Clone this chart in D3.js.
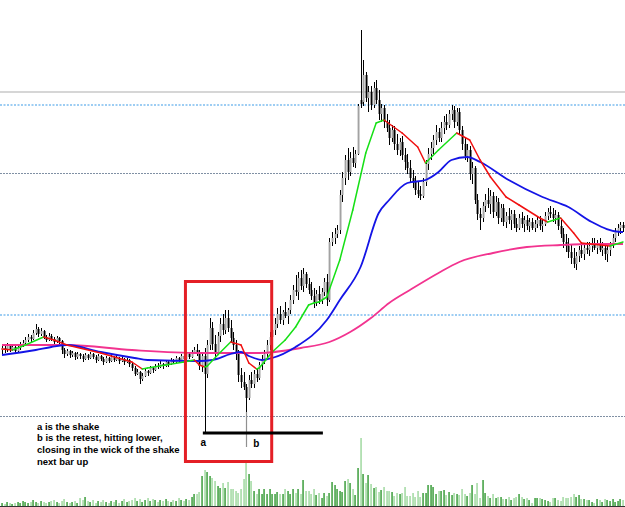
<!DOCTYPE html>
<html>
<head>
<meta charset="utf-8">
<script src="https://cdn.jsdelivr.net/npm/d3@7"></script>
<style>
  body { margin: 0; background: #fff; }
  svg { display: block; }
</style>
</head>
<body>
<div id="chart"></div>
<script>
// bars, price in points
let open = [150,152,150,154,151,153,149,152,155,157,160,163,161,167,171,166,169,163,160,164,
  161,158,162,159,150,146,149,145,147,143,146,144,141,145,142,146,143,140,144,141,
  138,142,139,143,140,142,139,141,138,140,136,132,126,128,121,124,129,127,132,130,
  134,133,136,134,138,136,140,138,142,140,144,141,146,143,148,150,146,134,144,126,
  155,172,156,148,164,176,170,182,172,162,155,146,125,118,113,102,120,116,126,122,
  135,140,146,155,163,170,176,186,180,188,184,190,200,210,208,222,214,226,216,210,
  204,198,206,200,208,218,200,258,262,266,270,305,322,340,328,342,337,346,400,398,
  425,402,408,395,412,400,386,392,378,372,362,370,356,350,358,345,338,332,322,318,
  310,306,304,318,336,346,352,360,368,362,372,378,375,386,390,378,388,370,356,344,
  350,326,332,300,286,282,294,300,296,304,288,298,282,292,278,284,280,286,276,272,
  282,276,280,274,278,272,276,280,274,276,284,288,286,282,285,274,266,258,254,248,
  242,236,244,250,246,252,250,254,256,252,256,250,252,246,250,256,262,268,272,275];
let high = [156,155,157,156,156,155,155,158,160,163,166,165,170,176,173,172,170,165,167,166,
  163,164,163,160,152,151,150,149,148,148,147,146,147,146,148,147,145,146,145,143,
  144,143,145,144,145,143,143,142,142,141,137,134,131,129,127,131,130,134,133,136,
  137,139,137,140,139,142,141,144,143,146,145,148,147,150,153,156,150,148,152,160,
  182,178,165,168,182,186,190,190,180,168,160,150,132,128,116,125,128,130,132,138,
  145,150,160,168,175,182,192,194,190,198,192,205,215,225,228,230,232,228,222,218,
  212,210,214,212,222,226,262,268,272,275,310,328,345,352,348,353,350,396,470,440,
  428,414,414,418,420,410,396,395,386,380,375,374,366,362,364,352,346,340,330,324,
  318,314,322,340,352,358,365,375,372,378,384,386,390,395,394,392,392,374,362,356,
  354,338,334,306,292,298,306,312,310,308,304,302,296,296,288,292,290,290,282,286,
  288,284,285,282,282,280,284,284,280,288,292,294,292,290,288,280,272,266,262,256,
  252,248,254,258,256,258,258,262,262,260,262,258,256,254,258,266,272,276,278,278];
let low = [146,147,148,148,149,146,147,150,153,154,158,158,160,165,163,164,161,158,159,159,
  156,157,156,146,142,144,142,143,140,141,141,138,140,140,141,141,137,139,139,135,
  137,137,138,138,139,136,138,135,137,133,129,124,125,116,119,123,124,126,127,129,
  131,132,131,133,133,135,136,137,138,139,139,140,141,142,146,144,130,128,105,122,
  150,150,140,145,158,165,166,168,158,150,140,118,112,110,88,100,112,112,118,120,
  130,136,142,150,158,165,172,176,175,182,176,186,196,204,200,210,208,212,206,200,
  192,194,196,196,204,194,198,254,256,262,266,298,315,320,324,333,332,345,392,394,
  398,388,390,392,396,380,378,372,368,355,358,350,345,344,340,330,326,318,312,305,
  302,300,302,314,330,340,346,355,358,358,366,370,372,380,372,374,365,350,340,338,
  320,316,296,280,270,278,288,292,286,282,284,276,278,274,272,276,270,272,268,270,
  272,268,270,268,270,268,272,270,268,274,280,282,278,276,270,262,252,248,242,236,
  232,230,238,242,240,246,244,248,250,246,248,244,240,238,244,252,258,264,266,268];
let close = [152,150,154,151,153,149,152,155,157,160,163,161,167,171,166,169,163,160,164,161,
  158,162,159,150,146,149,145,147,143,146,144,141,145,142,146,143,140,144,141,138,
  142,139,143,140,142,139,141,138,140,136,132,126,128,121,124,129,127,132,130,134,
  133,136,134,138,136,140,138,142,140,144,141,146,143,148,150,146,134,144,126,155,
  172,156,148,164,176,170,182,172,162,155,146,125,118,113,102,120,116,126,122,135,
  140,146,155,163,170,176,186,180,188,184,190,200,210,208,222,214,226,216,210,204,
  198,206,200,208,218,200,258,262,266,270,305,322,340,328,342,337,346,394,396,425,
  402,408,395,412,400,386,392,378,372,362,370,356,350,358,345,338,332,322,318,310,
  306,304,318,336,346,352,360,368,362,372,378,375,386,390,378,388,370,356,344,350,
  326,332,300,286,282,294,300,296,304,288,298,282,292,278,284,280,286,276,272,282,
  276,280,274,278,272,276,280,274,276,284,288,286,282,285,274,266,258,254,248,242,
  236,244,250,246,252,250,254,256,252,256,250,252,246,250,256,262,268,272,275,272];
let volume = [3,2,4,3,2,3,4,3,5,4, 3,4,6,4,3,5,4,3,4,5, 6,4,3,5,7,4,3,4,5,3,
  8,6,9,5,4,6,3,5,4,6, 4,3,5,4,6,3,5,7,4,5, 6,8,5,7,4,6,8,5,7,6,
  4,6,5,7,5,4,6,5,8,6, 5,7,6,9,12,12,14,30,36,34, 30,28,25,20,18,23,18,24,17,17,
  15,13,17,27,45,32,25,15,12,17, 12,17,12,17,12,12,14,12,12,17, 15,12,17,13,17,12,26,15,15,12,
  17,11,13,8,13,10,13,24,21,17, 15,14,25,27,23,17,11,38,68,32, 23,31,22,18,19,14,16,19,15,15,
  14,10,13,12,13,19,10,10,13,9, 15,9,13,13,21,21,19,12,15,15, 16,11,14,11,13,12,11,17,12,10,
  13,21,12,23,8,26,13,10,8,12, 8,9,9,7,7,9,6,8,9,12, 9,7,8,6,3,8,8,8,7,6,
  5,4,8,8,6,5,9,8,8,9, 12,9,11,7,7,6,6,4,3,7, 6,4,7,6,5,7,4,5,7,6];

// moving averages as [bar, price]
let maFast = [[0,151],[4,150],[9,155],[16,163],[20,160],[25,155],[38,147],[50,138],[54,131],[56,132],
  [63,135],[70,138],[74,140],[76,135],[78,133],[79,134],[83,145],[88,158],[92,155],[95,137],
  [98,131],[99,132],[104,148],[109,160],[113,173],[118,195],[120,197],[122,198],[125,203],[130,240],
  [135,290],[140,347],[144,377],[147,380],[154,367],[160,353],[163,337],[168,350],[175,367],[180,360],
  [184,340],[188,323],[194,303],[199,295],[207,282],[210,278],[215,282],[220,267],[223,257],[234,254],[239,258]];
let maMid = [[0,145],[13,150],[19,153],[25,155],[38,148],[51,142],[56,140],[76,139],[81,140],[88,146],
  [92,148],[95,144],[97,142],[100,140],[104,142],[113,153],[125,180],[130,200],[138,233],[145,287],
  [149,300],[156,317],[163,320],[168,328],[173,340],[179,343],[184,338],[195,320],[208,303],[218,293],
  [227,278],[238,268],[239,268]];
let maSlow = [[0,155],[25,155],[50,150],[76,147],[99,147],[115,152],[126,158],[134,168],[142,182],[149,197],
  [157,210],[168,227],[176,238],[189,247],[202,253],[215,255],[227,256],[239,256]];

// horizontal levels
let bidLevel = 408;
let blueLevels = [395, 185];
let grayLevels = [327, 84];

// annotation
let boxBars = [70.6, 103.8], boxPrices = [218.5, 38.5];
let shakeBar = 78, retestBar = 94;
let baseLine = 67, baseLineBars = [77.3, 123.5];
let notes = ["a is the shake", "b is the retest, hitting lower,", "closing in the wick of the shake", "next bar up"];

let width = 625, height = 507;

let svg = d3.select('#chart').append('svg')
    .attr('width', width)
    .attr('height', height);

let x = d3.scaleLinear().domain([0, close.length - 1]).range([2, 623]);
let y = d3.scaleLinear().domain([0, 500]).range([500, 0]);
let v = d3.scaleLinear().domain([0, 70]).range([506, 436]);

let bars = close.map((c, i) => ({i: i, o: open[i], h: high[i], l: low[i], c: c, vol: volume[i]}));

// levels behind everything
svg.append('line')
    .attr('x1', 0).attr('x2', width)
    .attr('y1', y(bidLevel)).attr('y2', y(bidLevel))
    .attr('stroke', '#c8c8c8').attr('stroke-width', 1.5);

svg.selectAll('.lvl-blue').data(blueLevels).join('line')
    .attr('class', 'lvl-blue')
    .attr('x1', 0).attr('x2', width)
    .attr('y1', d => y(d)).attr('y2', d => y(d))
    .attr('stroke', '#7dbdf0').attr('stroke-width', 1.3)
    .attr('stroke-dasharray', '2,1.5');

svg.selectAll('.lvl-gray').data(grayLevels).join('line')
    .attr('class', 'lvl-gray')
    .attr('x1', 0).attr('x2', width)
    .attr('y1', d => y(d) + 0.5).attr('y2', d => y(d) + 0.5)
    .attr('stroke', '#8090a4').attr('stroke-width', 1)
    .attr('stroke-dasharray', '2,1');

// volume
svg.selectAll('.vol').data(bars).join('rect')
    .attr('class', 'vol')
    .attr('x', d => Math.round(x(d.i)) - 0.6)
    .attr('width', 1.3)
    .attr('y', d => v(d.vol))
    .attr('height', d => v(0) - v(d.vol))
    .attr('fill', d => d.c >= d.o ? '#1f8f1f' : '#92d392');

svg.append('line')
    .attr('x1', 0).attr('x2', width)
    .attr('y1', v(0) + 0.5).attr('y2', v(0) + 0.5)
    .attr('stroke', '#333').attr('stroke-width', 1);

// candles
let candle = svg.append('g').selectAll('g').data(bars).join('g');
candle.append('line')
    .attr('x1', d => Math.round(x(d.i)) + 0.5).attr('x2', d => Math.round(x(d.i)) + 0.5)
    .attr('y1', d => y(d.h)).attr('y2', d => y(d.l))
    .attr('stroke', '#000').attr('stroke-width', 1);
candle.append('rect')
    .attr('x', d => Math.round(x(d.i)) - 0.4)
    .attr('width', 1.9)
    .attr('y', d => y(Math.max(d.o, d.c)))
    .attr('height', d => Math.max(1, Math.abs(y(d.o) - y(d.c))))
    .attr('fill', d => d.c >= d.o ? '#a2a2a2' : '#000');

// moving averages
let line = d3.line().x(d => x(d[0])).y(d => y(d[1])).curve(d3.curveMonotoneX);

svg.append('path').datum(maSlow)
    .attr('d', line).attr('fill', 'none')
    .attr('stroke', '#f2338f').attr('stroke-width', 1.8);
svg.append('path').datum(maMid)
    .attr('d', line).attr('fill', 'none')
    .attr('stroke', '#1414e6').attr('stroke-width', 1.8);

svg.selectAll('.ma-fast').data(d3.pairs(maFast)).join('path')
    .attr('class', 'ma-fast')
    .attr('d', d => d3.line().x(p => x(p[0])).y(p => y(p[1]))(d))
    .attr('fill', 'none')
    .attr('stroke-linecap', 'round')
    .attr('stroke', d => d[1][1] >= d[0][1] ? '#16e016' : '#f01010')
    .attr('stroke-width', 1.5);

// the annotation
svg.append('rect')
    .attr('x', x(boxBars[0])).attr('y', y(boxPrices[0]))
    .attr('width', x(boxBars[1]) - x(boxBars[0]))
    .attr('height', y(boxPrices[1]) - y(boxPrices[0]))
    .attr('fill', 'none').attr('stroke', '#e41f26').attr('stroke-width', 3);

svg.append('line')
    .attr('x1', Math.round(x(shakeBar)) + 0.5).attr('x2', Math.round(x(shakeBar)) + 0.5)
    .attr('y1', y(low[shakeBar])).attr('y2', y(baseLine))
    .attr('stroke', '#000').attr('stroke-width', 1);
svg.append('line')
    .attr('x1', Math.round(x(retestBar)) + 0.5).attr('x2', Math.round(x(retestBar)) + 0.5)
    .attr('y1', y(low[retestBar])).attr('y2', y(baseLine - 14))
    .attr('stroke', '#909090').attr('stroke-width', 1.2);

svg.append('line')
    .attr('x1', x(baseLineBars[0])).attr('x2', x(baseLineBars[1]))
    .attr('y1', y(baseLine)).attr('y2', y(baseLine))
    .attr('stroke', '#000').attr('stroke-width', 3);

svg.append('text')
    .attr('x', x(shakeBar) - 1.5).attr('y', y(baseLine) + 13)
    .attr('text-anchor', 'middle')
    .attr('font-family', 'Liberation Sans, Arial, sans-serif').attr('font-weight', 'bold').attr('font-size', 10)
    .text('a');
svg.append('text')
    .attr('x', x(retestBar) + 10).attr('y', y(baseLine) + 14)
    .attr('text-anchor', 'middle')
    .attr('font-family', 'Liberation Sans, Arial, sans-serif').attr('font-weight', 'bold').attr('font-size', 10)
    .text('b');

svg.selectAll('.note').data(notes).join('text')
    .attr('class', 'note')
    .attr('x', 37)
    .attr('y', (d, i) => 429.5 + i * 11.7)
    .attr('font-family', 'Liberation Sans, Arial, sans-serif')
    .attr('font-weight', 'bold')
    .attr('font-size', 9.5)
    .text(d => d);
</script>
</body>
</html>
